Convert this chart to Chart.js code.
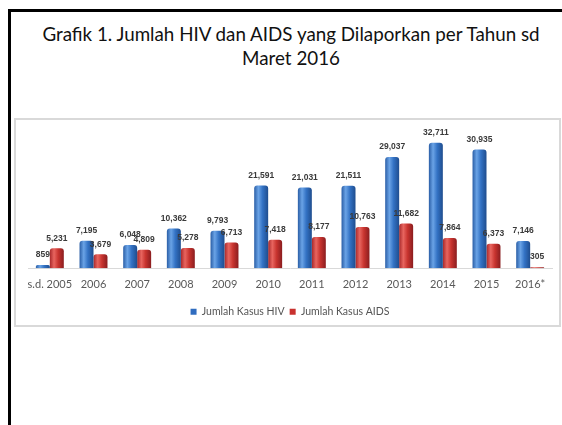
<!DOCTYPE html>
<html>
<head>
<meta charset="UTF-8">
<title>Grafik 1</title>
<script src="https://cdn.jsdelivr.net/npm/chart.js@4.4.1/dist/chart.umd.min.js"></script>
<style>
	body { margin: 0; background: #fff; width: 562px; height: 425px; overflow: hidden; position: relative; font-family: Lato, "Liberation Sans", sans-serif; }
	#slide { position: absolute; left: 8px; top: 9px; width: 600px; height: 460px; border-left: 3px solid #000; border-top: 3px solid #000; }
	#judul { position: absolute; left: 11px; width: 560px; top: 22px; text-align: center; font-size: 18.8px; line-height: 24px; color: #111; }
	#bingkai { position: absolute; left: 14px; top: 118px; width: 543px; height: 205px; border: 2px solid #d9d9d9; }
	#grafik { position: absolute; left: 16px; top: 120px; }
</style>
<script>
	let tahun = ['s.d. 2005', '2006', '2007', '2008', '2009', '2010', '2011', '2012', '2013', '2014', '2015', '2016*'];
	let kasusHIV = [859, 7195, 6048, 10362, 9793, 21591, 21031, 21511, 29037, 32711, 30935, 7146];
	let kasusAIDS = [5231, 3679, 4809, 5278, 6713, 7418, 8177, 10763, 11682, 7864, 6373, 305];

	// warna batang: [tepi kiri, sorotan, tengah, tepi kanan]
	let warnaHIV = ['#2a5ea6', '#6aa3e6', '#3372c4', '#1f4d8e'];
	let warnaAIDS = ['#a8282a', '#e8655f', '#c8342f', '#8a1d1f'];

	// gradien horizontal tiap batang supaya terlihat seperti silinder
	const gradienBatang = {
		id: 'gradienBatang',
		beforeDatasetsDraw(chart) {
			const ctx = chart.ctx;
			chart.data.datasets.forEach(function(ds, i) {
				const w = ds.warna;
				chart.getDatasetMeta(i).data.forEach(function(bar) {
					const x0 = bar.x - bar.width / 2, x1 = bar.x + bar.width / 2;
					const g = ctx.createLinearGradient(x0, 0, x1, 0);
					g.addColorStop(0, w[0]);
					g.addColorStop(0.3, w[1]);
					g.addColorStop(0.6, w[2]);
					g.addColorStop(1, w[3]);
					bar.options = Object.assign({}, bar.options, { backgroundColor: g });
				});
			});
		}
	};

	// angka di atas batang
	const labelNilai = {
		id: 'labelNilai',
		afterDatasetsDraw(chart) {
			const ctx = chart.ctx;
			ctx.save();
			ctx.font = 'bold 8.5px "Liberation Sans", sans-serif';
			ctx.fillStyle = '#3a3a3a';
			ctx.textAlign = 'center';
			ctx.textBaseline = 'middle';
			chart.data.datasets.forEach(function(ds, i) {
				chart.getDatasetMeta(i).data.forEach(function(bar, j) {
					ctx.fillText(ds.data[j].toLocaleString('en-US'), bar.x, bar.y - 10);
				});
			});
			ctx.restore();
		}
	};

	window.onload = function() {
		new Chart('grafik', {
			type: 'bar',
			data: {
				labels: tahun,
				datasets: [{
					label: 'Jumlah Kasus HIV',
					data: kasusHIV,
					backgroundColor: '#2f6cbf',
					warna: warnaHIV,
					borderRadius: { topLeft: 3, topRight: 3 },
					borderSkipped: 'bottom',
					categoryPercentage: 0.64,
					barPercentage: 1
				}, {
					label: 'Jumlah Kasus AIDS',
					data: kasusAIDS,
					backgroundColor: '#c8312e',
					warna: warnaAIDS,
					borderRadius: { topLeft: 3, topRight: 3 },
					borderSkipped: 'bottom',
					categoryPercentage: 0.64,
					barPercentage: 1
				}]
			},
			options: {
				responsive: false,
				animation: false,
				layout: { padding: { left: 12, right: 7, top: 14, bottom: 0 } },
				plugins: {
					legend: {
						position: 'bottom',
						labels: {
							boxWidth: 6,
							boxHeight: 6,
							padding: 5,
							color: '#555',
							font: { size: 10.5, family: 'Lato, "Liberation Sans", sans-serif' }
						}
					},
					tooltip: { enabled: false }
				},
				scales: {
					x: {
						grid: { display: false, drawTicks: false, tickLength: 0 },
						border: { color: '#d9d9d9', width: 1 },
						ticks: {
							color: '#595959',
							padding: 10,
							autoSkip: false,
							maxRotation: 0,
							minRotation: 0,
							font: { size: 11, family: 'Lato, "Liberation Sans", sans-serif' }
						}
					},
					y: {
						display: false,
						min: 0,
						max: 35000
					}
				}
			},
			plugins: [gradienBatang, labelNilai]
		});
	};
</script>
</head>
<body>
	<div id="slide"></div>
	<div id="judul">Grafik 1. Jumlah HIV dan AIDS yang Dilaporkan per Tahun sd<br>Maret 2016</div>
	<div id="bingkai"></div>
	<canvas id="grafik" width="543" height="207"></canvas>
</body>
</html>
